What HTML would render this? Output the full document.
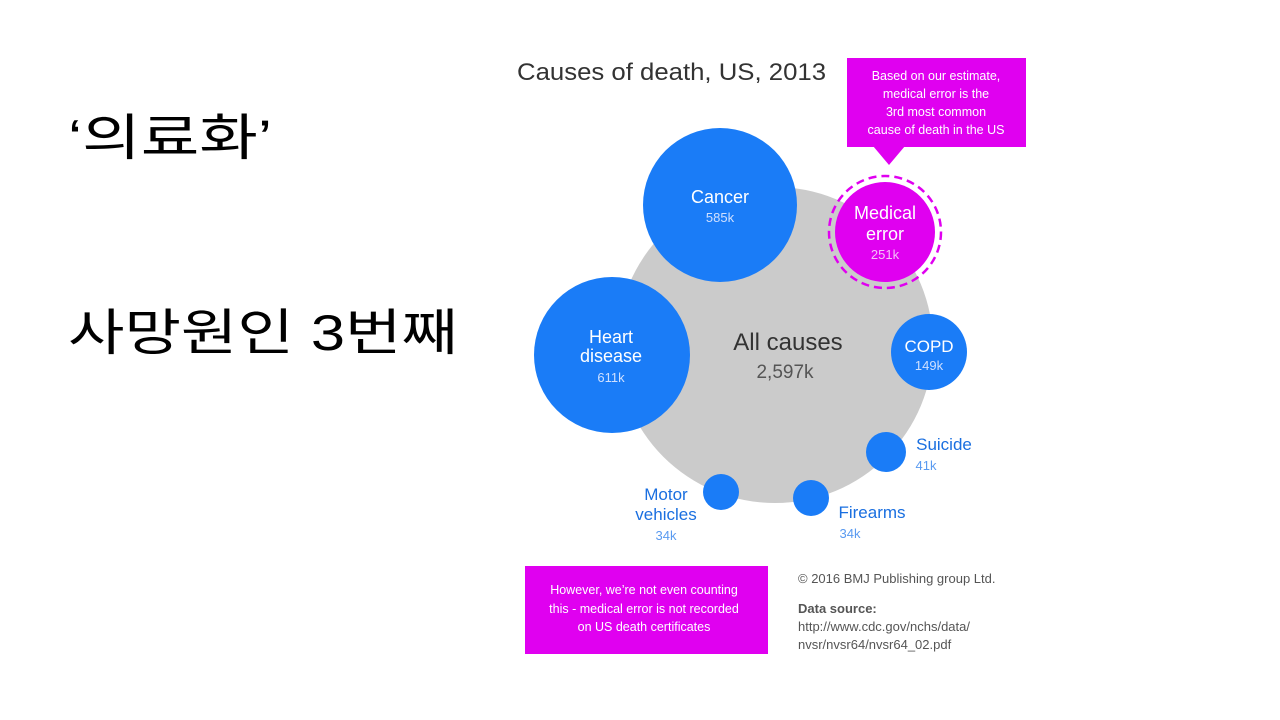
<!DOCTYPE html>
<html><head><meta charset="utf-8"><style>
html,body{margin:0;padding:0;background:#fff}
</style></head><body>
<svg width="1280" height="720" viewBox="0 0 1280 720" xmlns="http://www.w3.org/2000/svg" style="display:block">
<rect width="1280" height="720" fill="#fff"/>
<text x="68" y="155" font-family="'Liberation Sans','Noto Sans CJK KR',sans-serif" font-size="50" fill="#000" textLength="204" lengthAdjust="spacingAndGlyphs">‘의료화’</text>
<text x="68" y="350" font-family="'Liberation Sans','Noto Sans CJK KR',sans-serif" font-size="50" fill="#000" textLength="390" lengthAdjust="spacingAndGlyphs">사망원인 3번째</text>
<text x="517" y="80" font-family="'Liberation Sans','DejaVu Sans',sans-serif" font-size="24" fill="#333" textLength="309" lengthAdjust="spacingAndGlyphs">Causes of death, US, 2013</text>
<circle cx="775" cy="345" r="158" fill="#cbcbcb"/>
<g font-family="'Liberation Sans','DejaVu Sans',sans-serif" text-anchor="middle">
<circle cx="720" cy="205" r="77" fill="#1a7cf7"/>
<text x="720" y="203" font-size="18" fill="#fff">Cancer</text>
<text x="720" y="222" font-size="13" fill="#cfe0ff">585k</text>
<circle cx="612" cy="355" r="78" fill="#1a7cf7"/>
<text x="611" y="343" font-size="18" fill="#fff">Heart</text>
<text x="611" y="362" font-size="18" fill="#fff">disease</text>
<text x="611" y="382" font-size="13" fill="#cfe0ff">611k</text>
<text x="788" y="350" font-size="24" fill="#333">All causes</text>
<text x="785" y="378" font-size="19" fill="#555">2,597k</text>
<circle cx="885" cy="232" r="56" fill="none" stroke="#e000f0" stroke-width="2.5" stroke-dasharray="8,5"/>
<circle cx="885" cy="232" r="50" fill="#e000f0"/>
<text x="885" y="219" font-size="18" fill="#fff">Medical</text>
<text x="885" y="240" font-size="18" fill="#fff">error</text>
<text x="885" y="259" font-size="13" fill="#f4c0f8">251k</text>
<circle cx="929" cy="352" r="38" fill="#1a7cf7"/>
<text x="929" y="352" font-size="17" fill="#fff">COPD</text>
<text x="929" y="370" font-size="13" fill="#cfe0ff">149k</text>
<circle cx="886" cy="452" r="20" fill="#1a7cf7"/>
<text x="944" y="450" font-size="17" fill="#1a6fe0">Suicide</text>
<text x="926" y="470" font-size="13" fill="#5a9af0">41k</text>
<circle cx="721" cy="492" r="18" fill="#1a7cf7"/>
<text x="666" y="500" font-size="17" fill="#1a6fe0">Motor</text>
<text x="666" y="520" font-size="17" fill="#1a6fe0">vehicles</text>
<text x="666" y="540" font-size="13" fill="#5a9af0">34k</text>
<circle cx="811" cy="498" r="18" fill="#1a7cf7"/>
<text x="872" y="518" font-size="17" fill="#1a6fe0">Firearms</text>
<text x="850" y="538" font-size="13" fill="#5a9af0">34k</text>
<rect x="847" y="58" width="179" height="89" fill="#e000f0"/>
<polygon points="873,146 905,146 889,165" fill="#e000f0"/>
<g font-size="12.5" fill="#fff">
<text x="936" y="80">Based on our estimate,</text>
<text x="936" y="98">medical error is the</text>
<text x="936" y="116">3rd most common</text>
<text x="936" y="134">cause of death in the US</text>
</g>
<rect x="525" y="566" width="243" height="88" fill="#e000f0"/>
<g font-size="12.5" fill="#fff">
<text x="644" y="594">However, we’re not even counting</text>
<text x="644" y="613">this - medical error is not recorded</text>
<text x="644" y="631">on US death certificates</text>
</g>
</g>
<g font-family="'Liberation Sans','DejaVu Sans',sans-serif" font-size="13" fill="#555">
<text x="798" y="583">© 2016 BMJ Publishing group Ltd.</text>
<text x="798" y="613" font-weight="bold">Data source:</text>
<text x="798" y="631">http://www.cdc.gov/nchs/data/</text>
<text x="798" y="649">nvsr/nvsr64/nvsr64_02.pdf</text>
</g>
</svg>
</body></html>
